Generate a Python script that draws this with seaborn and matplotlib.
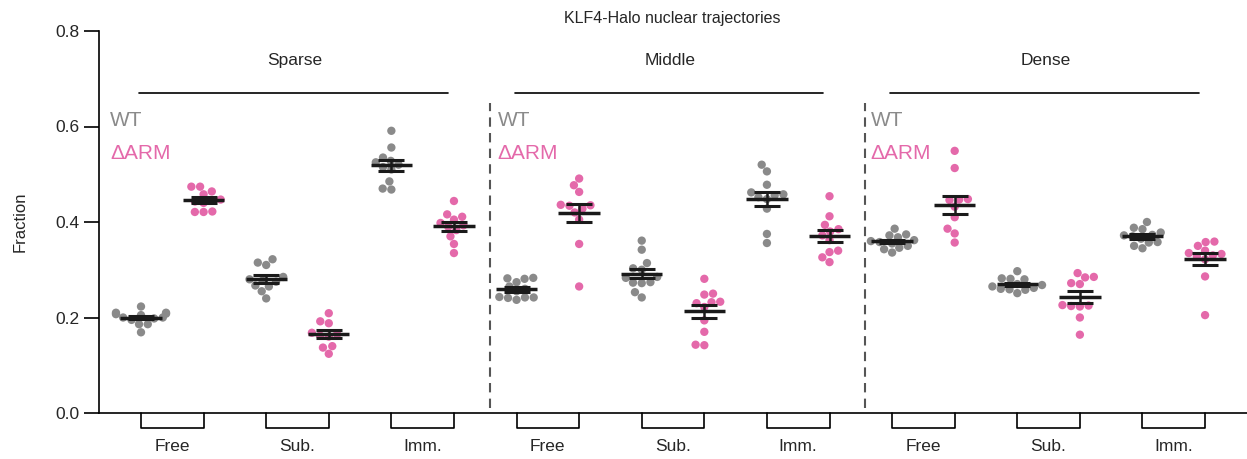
import numpy as np
import pandas as pd
import seaborn as sns
import matplotlib.pyplot as plt
import matplotlib.transforms as mtransforms

# Fractions per cell
densities = ["Sparse", "Middle", "Dense"]
states = ["Free", "Sub.", "Imm."]
genotypes = ["WT", "ΔARM"]

sparse_free_wt = [0.223, 0.210, 0.210, 0.208, 0.207, 0.205, 0.200, 0.200, 0.198, 0.195, 0.186, 0.186, 0.169]
sparse_free_arm = [0.474, 0.474, 0.464, 0.458, 0.447, 0.445, 0.443, 0.440, 0.422, 0.421, 0.421]
sparse_sub_wt = [0.322, 0.315, 0.310, 0.285, 0.280, 0.277, 0.275, 0.267, 0.265, 0.255, 0.240]
sparse_sub_arm = [0.209, 0.192, 0.188, 0.168, 0.165, 0.162, 0.160, 0.140, 0.137, 0.124]
sparse_imm_wt = [0.591, 0.556, 0.535, 0.528, 0.525, 0.520, 0.515, 0.510, 0.485, 0.470, 0.468]
sparse_imm_arm = [0.444, 0.416, 0.411, 0.405, 0.398, 0.393, 0.390, 0.383, 0.370, 0.354, 0.335]

middle_free_wt = [0.283, 0.282, 0.281, 0.274, 0.265, 0.260, 0.255, 0.243, 0.242, 0.242, 0.241, 0.237]
middle_free_arm = [0.491, 0.477, 0.463, 0.436, 0.435, 0.434, 0.428, 0.420, 0.405, 0.354, 0.265]
middle_sub_wt = [0.361, 0.342, 0.314, 0.303, 0.300, 0.285, 0.283, 0.274, 0.273, 0.272, 0.253, 0.242]
middle_sub_arm = [0.281, 0.250, 0.248, 0.233, 0.232, 0.230, 0.222, 0.194, 0.170, 0.143, 0.142]
middle_imm_wt = [0.520, 0.506, 0.478, 0.462, 0.458, 0.456, 0.452, 0.448, 0.428, 0.375, 0.356]
middle_imm_arm = [0.454, 0.412, 0.394, 0.385, 0.380, 0.372, 0.362, 0.340, 0.337, 0.326, 0.316]

dense_free_wt = [0.386, 0.374, 0.372, 0.368, 0.362, 0.360, 0.358, 0.355, 0.350, 0.346, 0.343, 0.336]
dense_free_arm = [0.549, 0.513, 0.448, 0.447, 0.446, 0.432, 0.410, 0.386, 0.376, 0.357]
dense_sub_wt = [0.297, 0.282, 0.281, 0.280, 0.270, 0.268, 0.265, 0.262, 0.260, 0.259, 0.258, 0.251]
dense_sub_arm = [0.293, 0.285, 0.284, 0.272, 0.270, 0.226, 0.225, 0.224, 0.223, 0.200, 0.164]
dense_imm_wt = [0.400, 0.388, 0.385, 0.378, 0.373, 0.372, 0.370, 0.365, 0.358, 0.357, 0.350, 0.345]
dense_imm_arm = [0.359, 0.358, 0.350, 0.340, 0.335, 0.333, 0.330, 0.328, 0.322, 0.286, 0.205]

groups = [
    sparse_free_wt, sparse_free_arm, sparse_sub_wt, sparse_sub_arm, sparse_imm_wt, sparse_imm_arm,
    middle_free_wt, middle_free_arm, middle_sub_wt, middle_sub_arm, middle_imm_wt, middle_imm_arm,
    dense_free_wt, dense_free_arm, dense_sub_wt, dense_sub_arm, dense_imm_wt, dense_imm_arm,
]

# long-form table
rows = []
order = []
i = 0
for d in densities:
    for s in states:
        for g in genotypes:
            label = f"{d} {s} {g}"
            order.append(label)
            for v in groups[i]:
                rows.append({"cond": label, "geno": g, "Fraction": v})
            i += 1
df = pd.DataFrame(rows)

colors = {"WT": "#8a8a8a", "ΔARM": "#e469aa"}

sns.set_style("ticks")
plt.rcParams["font.family"] = ["Liberation Sans", "DejaVu Sans"]
plt.rcParams["font.size"] = 12

fig = plt.figure(figsize=(12.47, 4.59), dpi=100)
ax = fig.add_axes([99 / 1247, 46 / 459, 1148 / 1247, 382 / 459])

sns.swarmplot(
    data=df, x="cond", y="Fraction", hue="geno", order=order,
    palette=colors, size=6, legend=False, ax=ax, zorder=2,
)

# mean +/- SEM
for k, vals in enumerate(groups):
    vals = np.asarray(vals)
    m = vals.mean()
    sem = vals.std(ddof=1) / np.sqrt(len(vals))
    ax.hlines(m, k - 0.33, k + 0.33, color="#1a1a1a", lw=2.5, zorder=4)
    ax.errorbar(k, m, yerr=sem, fmt="none", ecolor="#1a1a1a", elinewidth=1.8,
                capsize=9.7, capthick=2.2, zorder=4)

ax.set_xlim(-0.671, 17.67)
ax.set_ylim(0, 0.8)
ax.set_yticks([0.0, 0.2, 0.4, 0.6, 0.8])
ax.set_yticklabels(["0.0", "0.2", "0.4", "0.6", "0.8"])
ax.set_ylabel("Fraction", fontsize=12, labelpad=20)
ax.set_xlabel("")

# x labels centred under each pair
ax.set_xticks([2 * j + 0.5 for j in range(9)])
ax.set_xticklabels(states * 3, fontsize=12.5)
ax.tick_params(axis="x", length=0, pad=19)
ax.tick_params(axis="y", length=10.8, width=1.2, pad=3.5, labelsize=12.5, color="black")
for sp in ["top", "right"]:
    ax.spines[sp].set_visible(False)
for sp in ["left", "bottom"]:
    ax.spines[sp].set_linewidth(1.2)
    ax.spines[sp].set_color("black")

# brackets under each pair
trans = mtransforms.blended_transform_factory(ax.transData, ax.transAxes)
for j in range(9):
    x0, x1 = 2 * j, 2 * j + 1
    ax.plot([x0, x0, x1, x1], [0, -0.039, -0.039, 0], color="black", lw=1.2,
            transform=trans, clip_on=False)

# dividers between densities
for xd in [5.58, 11.57]:
    ax.plot([xd, xd], [0.01, 0.65], color="#555555", lw=1.5, ls=(0, (4.5, 3)), zorder=1)

# density group lines and labels
for j, d in enumerate(densities):
    ax.plot([6 * j - 0.03, 6 * j + 4.9], [0.67, 0.67], color="black", lw=1.2, clip_on=False)
    ax.text(6 * j + 2.45, 0.739, d, ha="center", va="center", fontsize=12.5)

# genotype labels in each panel
for xl in [-0.495, 5.7, 11.66]:
    ax.text(xl, 0.612, "WT", color=colors["WT"], fontsize=15, ha="left", va="center")
    ax.text(xl, 0.544, "ΔARM", color=colors["ΔARM"], fontsize=15, ha="left", va="center")

ax.text(8.48, 0.826, "KLF4-Halo nuclear trajectories", ha="center", va="center",
        fontsize=11.5, clip_on=False)

fig.savefig("out.png", dpi=100, facecolor="white")
